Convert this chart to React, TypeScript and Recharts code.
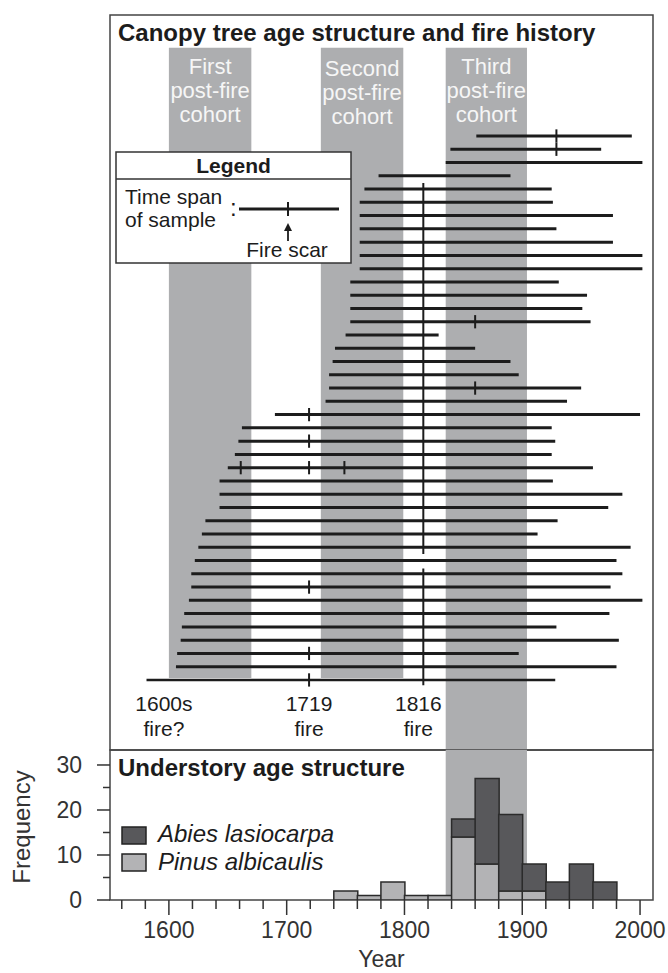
import React from "react";
import {
  Bar,
  ComposedChart,
  ReferenceArea,
  ReferenceDot,
  ReferenceLine,
  XAxis,
  YAxis,
} from "recharts";

const FONT = '"Liberation Sans", Arial, Helvetica, sans-serif';
const INK = "#1c1c1c";
const BAND = "#adaeb0";
const DARK = "#58585b";
const LIGHT = "#b3b3b5";
const FRAME = "#444";

// canopy trees, one row per sample from top to bottom (calendar years)
const spanStart = [
  1861, 1839, 1835, 1778, 1766, 1762, 1762, 1762, 1762, 1762, 1762, 1754, 1754, 1754,
  1754, 1750, 1741, 1739, 1736, 1736, 1733, 1690, 1662, 1659, 1656, 1650, 1643, 1643,
  1643, 1631, 1628, 1625, 1622, 1619, 1619, 1617, 1613, 1611, 1610, 1607, 1606, 1581,
];
const spanEnd = [
  1993, 1967, 2002, 1890, 1925, 1926, 1977, 1929, 1977, 2002, 2002, 1931, 1955, 1951,
  1958, 1829, 1860, 1890, 1897, 1950, 1938, 2000, 1925, 1928, 1925, 1960, 1926, 1985,
  1973, 1930, 1913, 1992, 1980, 1985, 1975, 2002, 1974, 1929, 1982, 1897, 1980, 1928,
];

// fire scars: row number + year
const scarRow = [1, 2, 15, 20, 22, 24, 26, 26, 26, 35, 40, 42];
const scarYear = [1929, 1929, 1860, 1860, 1719, 1719, 1661, 1719, 1749, 1719, 1719, 1719];

// the 1816 fire line runs through these row ranges
const fire1816From = [4.55, 33.6];
const fire1816To = [32.5, 42.4];

const cohortStart = [1600, 1729, 1835];
const cohortEnd = [1670, 1799, 1904];
const cohortLabels = [
  ["First", "post-fire", "cohort"],
  ["Second", "post-fire", "cohort"],
  ["Third", "post-fire", "cohort"],
];

const fireYears = [1600, 1719, 1816];
const fireLabels = [
  ["1600s", "fire?"],
  ["1719", "fire"],
  ["1816", "fire"],
];

// understory histogram, 20-yr bins (bin midpoints)
const binMid = [1750, 1770, 1790, 1810, 1830, 1850, 1870, 1890, 1910, 1930, 1950, 1970];
const pinus = [2, 1, 4, 1, 1, 14, 8, 2, 2, 0, 0, 0];
const abies = [0, 0, 0, 0, 0, 4, 19, 17, 6, 4, 8, 4];

const yearTicks = [
  1560, 1580, 1600, 1620, 1640, 1660, 1680, 1700, 1720, 1740, 1760, 1780, 1800, 1820,
  1840, 1860, 1880, 1900, 1920, 1940, 1960, 1980, 2000,
];
const freqTicks = [0, 5, 10, 15, 20, 25, 30];

const X_DOMAIN: [number, number] = [1550, 2011];
const ROW_TOP = -8.12;
const ROW_BOTTOM = 47.28;
const BAND_TOP = -5.66;
const BAND_BOTTOM = 41.85;
const FIRE_LABEL_ROW = 43.82;
const FREQ_MAX = 33.33;

const histData = binMid.map((bin, i) => ({ bin, pinus: pinus[i], abies: abies[i] }));

function BandText({ viewBox, lines, offset }: any) {
  const cx = viewBox.x + viewBox.width / 2;
  return (
    <text textAnchor="middle" fill="#f6f6f6" fontSize={22} fontFamily={FONT}>
      {lines.map((t: string, i: number) => (
        <tspan key={i} x={cx} y={viewBox.y + offset + i * 24} dy="0.35em">
          {t}
        </tspan>
      ))}
    </text>
  );
}

function FireText({ viewBox, lines, dx }: any) {
  const cx = viewBox.x + viewBox.width / 2 + dx;
  const cy = viewBox.y + viewBox.height / 2;
  return (
    <text textAnchor="middle" fill={INK} fontSize={21} fontFamily={FONT}>
      {lines.map((t: string, i: number) => (
        <tspan key={i} x={cx} y={cy + i * 24.5} dy="0.35em">
          {t}
        </tspan>
      ))}
    </text>
  );
}

function YearTick({ x, y, payload }: any) {
  const major = payload.value % 100 === 0;
  return (
    <g>
      <line x1={x} x2={x} y1={y} y2={y + (major ? 15 : 9)} stroke="#333" strokeWidth={1.5} />
      {major && (
        <text x={x} y={y + 30} dy="0.35em" textAnchor="middle" fill="#333" fontSize={23} fontFamily={FONT}>
          {payload.value}
        </text>
      )}
    </g>
  );
}

function FreqTick({ x, y, payload }: any) {
  const major = payload.value % 10 === 0;
  return (
    <g>
      <line x1={x - (major ? 13 : 7)} x2={x} y1={y} y2={y} stroke="#333" strokeWidth={1.5} />
      {major && (
        <text x={x - 28} y={y} dy="0.35em" textAnchor="end" fill="#333" fontSize={23} fontFamily={FONT}>
          {payload.value}
        </text>
      )}
    </g>
  );
}

const dxFire = [-5, 0, -5];
const bandOffset = [19, 21, 19];

export default function App() {
  return (
    <div style={{ position: "absolute", left: 0, top: 0, width: 668, height: 973, background: "#fff" }}>
      {/* canopy panel */}
      <div style={{ position: "absolute", left: 0, top: 0 }}>
        <ComposedChart
          width={668}
          height={973}
          data={histData}
          margin={{ top: 15, right: 15, bottom: 223, left: 110 }}
        >
          <XAxis type="number" dataKey="bin" domain={X_DOMAIN} allowDataOverflow hide />
          <YAxis type="number" domain={[ROW_TOP, ROW_BOTTOM]} allowDataOverflow reversed hide />
          <ReferenceArea
            x1={X_DOMAIN[0]}
            x2={X_DOMAIN[1]}
            y1={ROW_TOP}
            y2={ROW_BOTTOM}
            fill="none"
            stroke={FRAME}
            strokeWidth={1.5}
            ifOverflow="visible"
          />
          {cohortStart.map((s, i) => (
            <ReferenceArea
              key={`band${i}`}
              x1={s}
              x2={cohortEnd[i]}
              y1={BAND_TOP}
              y2={i === 2 ? ROW_BOTTOM : BAND_BOTTOM}
              fill={BAND}
              fillOpacity={1}
              stroke="none"
              label={(p: any) => <BandText viewBox={p.viewBox} lines={cohortLabels[i]} offset={bandOffset[i]} />}
            />
          ))}
          {spanStart.map((s, i) => (
            <ReferenceLine
              key={`span${i}`}
              segment={[
                { x: s, y: i + 1 },
                { x: spanEnd[i], y: i + 1 },
              ]}
              stroke={INK}
              strokeWidth={i === 41 ? 2.5 : 3}
            />
          ))}
          {scarRow.map((r, i) => (
            <ReferenceLine
              key={`scar${i}`}
              segment={[
                { x: scarYear[i], y: r - 0.5 },
                { x: scarYear[i], y: r + 0.5 },
              ]}
              stroke={INK}
              strokeWidth={2}
            />
          ))}
          {fire1816From.map((f, i) => (
            <ReferenceLine
              key={`f1816${i}`}
              segment={[
                { x: 1816, y: f },
                { x: 1816, y: fire1816To[i] },
              ]}
              stroke={INK}
              strokeWidth={2}
            />
          ))}
          {fireYears.map((yr, i) => (
            <ReferenceDot
              key={`fl${i}`}
              x={yr}
              y={FIRE_LABEL_ROW}
              r={0}
              fill="none"
              stroke="none"
              label={(p: any) => <FireText viewBox={p.viewBox} lines={fireLabels[i]} dx={dxFire[i]} />}
            />
          ))}
        </ComposedChart>
      </div>

      {/* understory histogram */}
      <div style={{ position: "absolute", left: 0, top: 0 }}>
        <ComposedChart
          width={668}
          height={973}
          data={histData}
          margin={{ top: 750, right: 15, bottom: 0, left: 0 }}
          barCategoryGap={0}
          barGap={0}
        >
          <XAxis
            type="number"
            dataKey="bin"
            domain={X_DOMAIN}
            allowDataOverflow
            ticks={yearTicks}
            interval={0}
            tick={(p: any) => <YearTick {...p} />}
            tickSize={0}
            tickMargin={0}
            tickLine={false}
            axisLine={false}
            height={73}
            label={(p: any) => (
              <text
                x={p.viewBox.x + p.viewBox.width / 2}
                y={p.viewBox.y + 59}
                dy="0.35em"
                textAnchor="middle"
                fill="#333"
                fontSize={23}
                fontFamily={FONT}
              >
                Year
              </text>
            )}
          />
          <YAxis
            type="number"
            domain={[0, FREQ_MAX]}
            allowDataOverflow
            ticks={freqTicks}
            interval={0}
            tick={(p: any) => <FreqTick {...p} />}
            tickSize={0}
            tickMargin={0}
            tickLine={false}
            axisLine={false}
            width={110}
            label={(p: any) => {
              const cx = p.viewBox.x + 22;
              const cy = p.viewBox.y + p.viewBox.height / 2 + 2;
              return (
                <text
                  x={cx}
                  y={cy}
                  dy="0.35em"
                  textAnchor="middle"
                  transform={`rotate(-90 ${cx} ${cy})`}
                  fill="#333"
                  fontSize={24}
                  fontFamily={FONT}
                >
                  Frequency
                </text>
              );
            }}
          />
          <ReferenceArea
            x1={X_DOMAIN[0]}
            x2={X_DOMAIN[1]}
            y1={0}
            y2={FREQ_MAX}
            fill="none"
            stroke={FRAME}
            strokeWidth={1.5}
            ifOverflow="visible"
          />
          <ReferenceArea
            x1={cohortStart[2]}
            x2={cohortEnd[2]}
            y1={0}
            y2={FREQ_MAX}
            fill={BAND}
            fillOpacity={1}
            stroke="none"
          />
          <Bar dataKey="pinus" stackId="s" fill={LIGHT} stroke="#2b2b2b" strokeWidth={1.5} isAnimationActive={false} />
          <Bar dataKey="abies" stackId="s" fill={DARK} stroke="#2b2b2b" strokeWidth={1.5} isAnimationActive={false} />
        </ComposedChart>
      </div>

      {/* titles and legends */}
      <svg
        width={668}
        height={973}
        style={{ position: "absolute", left: 0, top: 0, pointerEvents: "none" }}
        fontFamily={FONT}
      >
        <text x={118} y={33} dy="0.35em" fontSize={24} fontWeight="bold" fill={INK}>
          Canopy tree age structure and fire history
        </text>

        <rect x={116} y={152} width={235} height={111} fill="#fff" stroke="#333" strokeWidth={1.5} />
        <line x1={116} x2={351} y1={179} y2={179} stroke="#333" strokeWidth={1.5} />
        <text x={233.5} y={166} dy="0.35em" textAnchor="middle" fontSize={21} fontWeight="bold" fill={INK}>
          Legend
        </text>
        <text x={125} y={197} dy="0.35em" fontSize={21} fill={INK}>
          Time span
        </text>
        <text x={125} y={220} dy="0.35em" fontSize={21} fill={INK}>
          of sample
        </text>
        <text x={230} y={216} fontSize={24} fill={INK}>
          :
        </text>
        <line x1={239} x2={339} y1={209} y2={209} stroke={INK} strokeWidth={3} />
        <line x1={288} x2={288} y1={202} y2={216} stroke={INK} strokeWidth={2} />
        <line x1={288} x2={288} y1={241} y2={229} stroke={INK} strokeWidth={1.8} />
        <path d="M284 231 L288 223 L292 231 Z" fill={INK} />
        <text x={287} y={250} dy="0.35em" textAnchor="middle" fontSize={21} fill={INK}>
          Fire scar
        </text>

        <text x={118} y={768} dy="0.35em" fontSize={24} fontWeight="bold" fill={INK}>
          Understory age structure
        </text>
        <rect x={122} y={827} width={24} height={17} fill={DARK} stroke="#222" strokeWidth={1.5} />
        <rect x={122} y={854} width={24} height={17} fill={LIGHT} stroke="#222" strokeWidth={1.5} />
        <text x={158} y={834} dy="0.35em" fontSize={24} fontStyle="italic" fill={INK}>
          Abies lasiocarpa
        </text>
        <text x={158} y={862} dy="0.35em" fontSize={24} fontStyle="italic" fill={INK}>
          Pinus albicaulis
        </text>
      </svg>
    </div>
  );
}
